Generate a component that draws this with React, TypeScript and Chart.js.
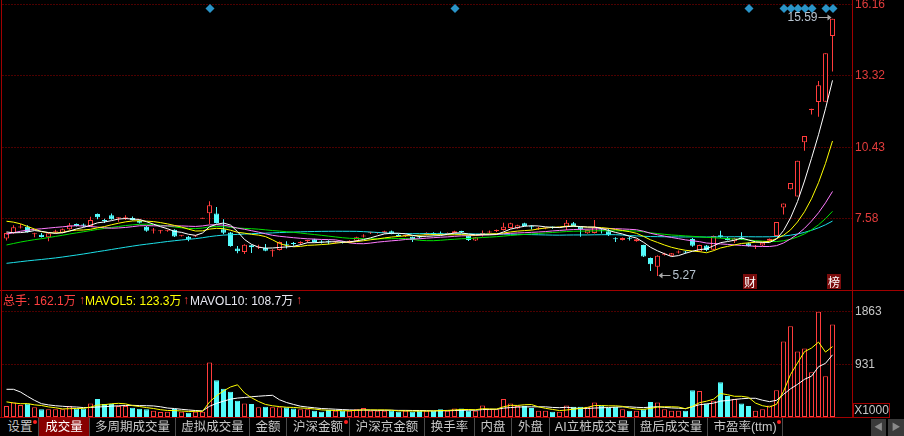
import React, { useEffect, useRef } from 'react';
import { Chart, registerables } from 'chart.js';

Chart.register(...registerables);

// ---------------- data ----------------
const opens = [
  6.78, 6.99, 7.22, 7.25, 6.95, 6.93, 6.83, 7.05, 7.01, 7.15,
  7.36, 7.34, 7.28, 7.76, 7.51, 7.71, 7.59, 7.59, 7.60, 7.49,
  7.25, 7.10, 7.07, 7.09, 7.13, 6.89, 6.85, 6.86, 7.57, 7.79,
  7.78, 7.15, 7.02, 6.38, 6.24, 6.51, 6.42, 6.40, 6.27, 6.32,
  6.55, 6.58, 6.60, 6.68, 6.75, 6.66, 6.65, 6.62, 6.66, 6.61,
  6.69, 6.86, 6.99, 7.00, 6.99, 7.07, 6.93, 6.88, 6.85, 6.86,
  6.93, 6.98, 6.99, 6.96, 6.99, 7.06, 6.89, 6.70, 6.96, 7.02,
  7.08, 7.12, 7.20, 7.18, 7.39, 7.25, 7.17, 7.18, 7.24, 7.21,
  7.25, 7.39, 7.25, 6.99, 7.00, 7.12, 7.07, 6.78, 6.72, 6.79,
  6.67, 6.52, 6.00, 5.65, 6.13, 6.09, 6.22, 6.26, 6.76, 6.26,
  6.50, 6.33, 6.91, 6.80, 6.67, 6.82, 6.59, 6.45, 6.50, 6.69,
  6.88, 8.02, 8.75, 8.46, 10.64, 11.93, 12.25, 12.26, 14.90,
];
const highs = [
  7.02, 7.31, 7.36, 7.31, 7.01, 7.00, 7.00, 7.13, 7.18, 7.40,
  7.38, 7.38, 7.65, 7.78, 7.57, 7.78, 7.63, 7.71, 7.66, 7.53,
  7.28, 7.20, 7.12, 7.13, 7.15, 6.92, 6.88, 6.92, 7.58, 8.27,
  8.04, 7.55, 7.04, 6.48, 6.55, 6.53, 6.53, 6.56, 6.35, 6.66,
  6.67, 6.64, 6.67, 6.73, 6.77, 6.71, 6.71, 6.68, 6.68, 6.71,
  6.85, 6.95, 7.05, 7.04, 7.09, 7.10, 6.96, 6.94, 6.86, 6.90,
  7.03, 7.03, 7.06, 7.02, 7.09, 7.09, 6.90, 6.84, 7.10, 7.10,
  7.14, 7.41, 7.41, 7.33, 7.41, 7.31, 7.25, 7.22, 7.26, 7.24,
  7.52, 7.44, 7.26, 7.14, 7.52, 7.18, 7.17, 6.83, 6.82, 6.84,
  6.76, 6.53, 6.02, 6.11, 6.21, 6.20, 6.30, 6.28, 6.80, 6.53,
  6.52, 6.90, 7.09, 6.85, 6.81, 7.03, 6.62, 6.52, 6.63, 6.78,
  7.44, 8.18, 9.00, 9.90, 10.89, 11.98, 13.09, 14.21, 15.59,
];
const lows = [
  6.70, 6.97, 7.18, 7.02, 6.83, 6.82, 6.67, 6.99, 6.99, 7.13,
  7.26, 7.24, 7.26, 7.55, 7.40, 7.53, 7.45, 7.52, 7.50, 7.38,
  7.05, 6.98, 6.98, 7.05, 6.84, 6.86, 6.67, 6.84, 7.57, 7.36,
  7.38, 6.95, 6.45, 6.19, 6.16, 6.20, 6.36, 6.27, 6.05, 6.30,
  6.38, 6.49, 6.52, 6.62, 6.62, 6.58, 6.55, 6.58, 6.58, 6.60,
  6.66, 6.82, 6.96, 6.97, 6.97, 6.95, 6.86, 6.84, 6.64, 6.78,
  6.91, 6.91, 6.93, 6.93, 6.97, 7.00, 6.68, 6.68, 6.86, 6.99,
  7.04, 7.10, 7.18, 7.16, 7.27, 7.14, 7.13, 7.15, 7.17, 7.20,
  7.12, 7.26, 6.85, 6.97, 6.98, 6.98, 6.88, 6.64, 6.70, 6.70,
  6.65, 6.04, 5.47, 5.27, 6.10, 6.07, 6.18, 6.18, 6.45, 6.24,
  6.27, 6.31, 6.80, 6.70, 6.60, 6.72, 6.46, 6.36, 6.48, 6.67,
  6.86, 7.74, 8.74, 8.46, 10.30, 11.75, 11.66, 12.26, 13.47,
];
const closes = [
  7.00, 7.23, 7.24, 7.04, 6.97, 6.84, 6.99, 7.08, 7.15, 7.31,
  7.28, 7.29, 7.52, 7.63, 7.48, 7.55, 7.61, 7.62, 7.52, 7.41,
  7.09, 7.13, 7.11, 7.11, 6.86, 6.91, 6.75, 6.89, 7.58, 8.11,
  7.40, 7.01, 6.48, 6.27, 6.53, 6.43, 6.44, 6.29, 6.30, 6.64,
  6.53, 6.56, 6.62, 6.70, 6.64, 6.62, 6.63, 6.66, 6.61, 6.69,
  6.83, 6.88, 7.01, 7.02, 7.07, 6.96, 6.88, 6.90, 6.72, 6.82,
  7.01, 6.96, 6.97, 6.98, 7.07, 7.04, 6.72, 6.83, 6.99, 7.04,
  7.10, 7.25, 7.39, 7.31, 7.28, 7.23, 7.19, 7.21, 7.22, 7.23,
  7.41, 7.28, 7.15, 7.12, 7.23, 7.10, 6.91, 6.75, 6.80, 6.77,
  6.75, 6.06, 5.75, 6.09, 6.18, 6.19, 6.25, 6.22, 6.49, 6.52,
  6.32, 6.88, 6.84, 6.72, 6.79, 6.76, 6.48, 6.47, 6.61, 6.77,
  7.44, 8.18, 9.00, 9.90, 10.89, 11.98, 12.92, 14.21, 15.59,
];
// volume in units of 1000 hands
const volumes = [
  193, 258, 211, 240, 170, 135, 135, 135, 135, 193,
  152, 152, 240, 316, 228, 228, 193, 193, 164, 146,
  135, 111, 88, 94, 140, 94, 76, 94, 94, 961,
  650, 498, 445, 287, 240, 228, 170, 182, 170, 170,
  170, 152, 135, 135, 111, 94, 123, 111, 111, 111,
  135, 158, 111, 111, 111, 111, 94, 111, 94, 111,
  111, 111, 135, 111, 152, 152, 111, 111, 205, 135,
  135, 316, 240, 193, 193, 158, 111, 111, 94, 94,
  205, 182, 182, 182, 258, 205, 158, 182, 135, 111,
  111, 135, 264, 258, 135, 111, 111, 111, 474, 457,
  240, 287, 615, 369, 316, 240, 193, 111, 135, 205,
  474, 1330, 1599, 1154, 1207, 791, 1857, 720, 1634,
];
// closes / volumes just before the visible window (feed the moving averages)
const priorCloses = [
  5.3, 5.2, 5.1, 5.25, 5.2, 5.15, 5.2,
  5.0, 4.9, 4.85, 4.8, 4.8, 4.85, 4.9, 4.8,
  4.85, 4.9, 4.95, 4.9, 4.95, 5.0, 4.95, 4.9,
  5.0, 5.1, 5.2, 5.3, 5.3, 5.4, 5.4,
  5.45, 5.5, 5.55, 5.6, 5.65, 5.65, 5.7, 5.75, 5.8, 5.9,
  6.0, 6.1, 6.2, 6.3, 6.35, 6.45, 6.55, 6.65, 6.75, 6.95,
  7.6, 7.9, 8.1, 8.0, 7.9,
  7.4, 7.2, 6.9, 6.7,
];
const priorVolumes = [258, 691, 1000, 880, 725, 350, 280, 230, 280];

const priceTicks = [7.58, 10.43, 13.32, 16.16];
const volumeTicks = [931, 1863];
const maPeriods = [5, 10, 20, 30, 60];
const volMaPeriods = [5, 10];
const markerIdx = [29, 64, 106, 111, 112, 113, 114, 115, 117, 118];
const eventIdx = [106, 118];
const eventText = ['财', '榜'];
const legendLabels = ['总手: 162.1万', 'MAVOL5: 123.3万', 'MAVOL10: 108.7万'];
const tabLabels = ['设置', '成交量', '多周期成交量', '虚拟成交量', '金额', '沪深金额', '沪深京金额', '换手率', '内盘', '外盘', 'AI立桩成交量', '盘后成交量', '市盈率(ttm)'];
const tabDotted = ['设置', '沪深金额', '市盈率(ttm)'];
const selectedTab = '成交量';

// ---------------- styles / layout ----------------
const UP = '#ff3c3c';
const DOWN = '#54fcfc';
const BORDER = '#a00000';
const GRID = '#9a0000';
const maColors = ['#ffffff', '#ffff00', '#ff7cff', '#00e000', '#1ce0e8'];
const volMaColors = ['#ffff00', '#ffffff'];
const legendColors = ['#ff4040', '#ffff00', '#e6e6f0'];
const legendLefts = [3, 85, 190];
const arrowLefts = [79, 183, 296];
const tabEdges = [2, 39, 90, 176, 250, 287, 350, 425, 475, 512, 550, 635, 708, 783];
const NUM_FONT = "'Liberation Sans', Arial, sans-serif";
const CJK_FONT = "'Liberation Sans', 'Noto Sans CJK SC', sans-serif";
const X_MIN = -4 / 7;
const X_MAX = X_MIN + 850 / 7;
const PRICE_MIN = 4.713;
const PRICE_MAX = 16.34;
const VOL_MAX = 2223;

function movingAverage(values: number[], prior: number[], n: number): (number | null)[] {
  const all = prior.concat(values);
  const off = prior.length;
  return values.map((_, i) => {
    const end = off + i;
    const start = end - n + 1;
    if (start < 0) return null;
    let s = 0;
    for (let k = start; k <= end; k++) s += all[k];
    return s / n;
  });
}

const pricePlugin = {
  id: 'priceNotes',
  afterDatasetsDraw(chart: any) {
    const { ctx, chartArea } = chart;
    const xs = chart.scales.x;
    const ys = chart.scales.y;
    ctx.save();
    // top markers
    ctx.fillStyle = '#2a94c8';
    markerIdx.forEach((i) => {
      const px = xs.getPixelForValue(i) + 0.5;
      const py = chartArea.top + 8.5;
      const r = 4.5;
      ctx.beginPath();
      ctx.moveTo(px, py - r);
      ctx.lineTo(px + r, py);
      ctx.lineTo(px, py + r);
      ctx.lineTo(px - r, py);
      ctx.closePath();
      ctx.fill();
    });
    // highest / lowest
    let hi = 0;
    let lo = 0;
    highs.forEach((h, i) => { if (h >= highs[hi]) hi = i; });
    lows.forEach((l, i) => { if (l < lows[lo]) lo = i; });
    ctx.font = `12px ${NUM_FONT}`;
    ctx.textBaseline = 'middle';
    ctx.lineWidth = 1;
    const hx = xs.getPixelForValue(hi);
    const hy = Math.round(ys.getPixelForValue(highs[hi])) - 1.5;
    ctx.strokeStyle = '#a8a8a8';
    ctx.fillStyle = '#a8a8a8';
    ctx.beginPath();
    ctx.moveTo(hx - 14, hy);
    ctx.lineTo(hx - 4, hy);
    ctx.stroke();
    ctx.beginPath();
    ctx.moveTo(hx - 1, hy);
    ctx.lineTo(hx - 5, hy - 3);
    ctx.lineTo(hx - 5, hy + 3);
    ctx.closePath();
    ctx.fill();
    ctx.fillStyle = '#b8c4d0';
    ctx.textAlign = 'right';
    ctx.fillText(highs[hi].toFixed(2), hx - 15, hy);

    const lx = xs.getPixelForValue(lo);
    const ly = Math.round(ys.getPixelForValue(lows[lo])) - 0.5;
    ctx.fillStyle = '#a8a8a8';
    ctx.beginPath();
    ctx.moveTo(lx + 4, ly);
    ctx.lineTo(lx + 13, ly);
    ctx.stroke();
    ctx.beginPath();
    ctx.moveTo(lx + 1, ly);
    ctx.lineTo(lx + 5, ly - 3);
    ctx.lineTo(lx + 5, ly + 3);
    ctx.closePath();
    ctx.fill();
    ctx.fillStyle = '#b8c4d0';
    ctx.textAlign = 'left';
    ctx.fillText(lows[lo].toFixed(2), lx + 15, ly);

    // event tags
    ctx.font = "12px 'Noto Sans CJK SC', sans-serif";
    ctx.textAlign = 'center';
    eventIdx.forEach((i, k) => {
      const cx = Math.round(xs.getPixelForValue(i) + 1.5);
      const bottom = chartArea.bottom - 1;
      ctx.fillStyle = '#7a0c0c';
      ctx.fillRect(cx - 7, bottom - 15, 14, 15);
      ctx.fillStyle = '#ffffff';
      ctx.fillText(eventText[k], cx, bottom - 7);
    });
    ctx.restore();
  },
};

export default function App() {
  const priceRef = useRef<HTMLCanvasElement>(null);
  const volRef = useRef<HTMLCanvasElement>(null);

  useEffect(() => {
    const idx = closes.map((_, i) => i);
    const isUp = idx.map((i) => closes[i] >= opens[i]);
    const xScale: any = { type: 'linear', min: X_MIN, max: X_MAX, display: false, offset: false };

    const price = new Chart(priceRef.current as HTMLCanvasElement, {
      type: 'bar',
      data: {
        datasets: [
          ...maPeriods.map((n, k) => ({
            type: 'line',
            label: 'MA' + n,
            data: movingAverage(closes, priorCloses, n).map((v, i) => ({ x: i, y: v })),
            borderColor: maColors[k],
            borderWidth: 1,
            pointRadius: 0,
            tension: 0,
            order: 0,
          })),
          {
            type: 'bar',
            label: 'body',
            data: idx.map((i) => ({ x: i, y: [opens[i], closes[i]] })),
            backgroundColor: idx.map((i) => (isUp[i] ? '#000000' : DOWN)),
            borderColor: idx.map((i) => (isUp[i] ? UP : DOWN)),
            borderWidth: 1,
            borderSkipped: false,
            barThickness: 5,
            minBarLength: 1,
            grouped: false,
            inflateAmount: 0,
            order: 1,
          },
          {
            type: 'bar',
            label: 'wick',
            data: idx.map((i) => ({ x: i, y: [lows[i], highs[i]] })),
            backgroundColor: idx.map((i) => (isUp[i] ? UP : DOWN)),
            borderWidth: 0,
            barThickness: 1,
            minBarLength: 1,
            grouped: false,
            inflateAmount: 0,
            order: 2,
          },
        ] as any,
      },
      options: {
        animation: false,
        responsive: false,
        devicePixelRatio: 1,
        events: [],
        layout: { padding: { left: 2.5, right: 0, top: 0, bottom: 1 } },
        plugins: { legend: { display: false }, tooltip: { enabled: false } },
        scales: {
          x: xScale,
          y: {
            type: 'linear',
            position: 'right',
            min: PRICE_MIN,
            max: PRICE_MAX,
            bounds: 'data',
            afterBuildTicks: (s: any) => { s.ticks = priceTicks.map((v) => ({ value: v })); },
            afterFit: (s: any) => { s.width = 51.5; s.paddingTop = 0; s.paddingBottom = 0; },
            ticks: {
              color: '#e23c3c',
              padding: 2.5,
              autoSkip: false,
              font: { size: 12, family: NUM_FONT },
              callback: (v: any) => Number(v).toFixed(2),
            },
            grid: { color: GRID, drawTicks: false, lineWidth: 1 },
            border: { display: false, dash: [1, 2] },
          } as any,
        },
      },
      plugins: [pricePlugin],
    });

    const vol = new Chart(volRef.current as HTMLCanvasElement, {
      type: 'bar',
      data: {
        datasets: [
          ...volMaPeriods.map((n, k) => ({
            type: 'line',
            label: 'MAVOL' + n,
            data: movingAverage(volumes, priorVolumes, n).map((v, i) => ({ x: i, y: v })),
            borderColor: volMaColors[k],
            borderWidth: 1,
            pointRadius: 0,
            tension: 0,
            order: 0,
          })),
          {
            type: 'bar',
            label: 'volume',
            data: idx.map((i) => ({ x: i, y: volumes[i] })),
            backgroundColor: idx.map((i) => (isUp[i] ? '#000000' : DOWN)),
            borderColor: idx.map((i) => (isUp[i] ? UP : DOWN)),
            borderWidth: 1,
            borderSkipped: false,
            barThickness: 5,
            grouped: false,
            inflateAmount: 0,
            order: 1,
          },
        ] as any,
      },
      options: {
        animation: false,
        responsive: false,
        devicePixelRatio: 1,
        events: [],
        layout: { padding: { left: 2.5, right: 0, top: 0, bottom: 1 } },
        plugins: { legend: { display: false }, tooltip: { enabled: false } },
        scales: {
          x: xScale,
          y: {
            type: 'linear',
            position: 'right',
            min: 0,
            max: VOL_MAX,
            bounds: 'data',
            afterBuildTicks: (s: any) => { s.ticks = volumeTicks.map((v) => ({ value: v })); },
            afterFit: (s: any) => { s.width = 51.5; s.paddingTop = 0; s.paddingBottom = 0; },
            ticks: {
              color: '#c8c8c8',
              padding: 2.5,
              autoSkip: false,
              font: { size: 12, family: NUM_FONT },
              callback: (v: any) => String(v),
            },
            grid: { color: GRID, drawTicks: false, lineWidth: 1 },
            border: { display: false, dash: [1, 2] },
          } as any,
        },
      },
    });

    return () => {
      price.destroy();
      vol.destroy();
    };
  }, []);

  const abs = (s: any) => ({ position: 'absolute', ...s });

  return (
    <div style={{ position: 'fixed', left: 0, top: 0, width: 904, height: 436, background: '#000', overflow: 'hidden', fontFamily: CJK_FONT }}>
      <canvas ref={priceRef} width={904} height={291} style={abs({ left: 0, top: 0, width: 904, height: 291 })} />
      <canvas ref={volRef} width={904} height={127} style={abs({ left: 0, top: 291, width: 904, height: 127 })} />

      <div style={abs({ left: 1, top: 0, width: 1, height: 418, background: BORDER })} />
      <div style={abs({ left: 852, top: 0, width: 1, height: 418, background: BORDER })} />
      <div style={abs({ left: 0, top: 290, width: 904, height: 1, background: BORDER })} />
      <div style={abs({ left: 0, top: 417, width: 853, height: 1, background: BORDER })} />

      {legendLabels.map((t, k) => (
        <div key={'l' + k} style={abs({ left: legendLefts[k], top: 295, fontSize: 12, lineHeight: '13px', color: legendColors[k], whiteSpace: 'nowrap' })}>{t}</div>
      ))}
      {arrowLefts.map((x, k) => (
        <div key={'a' + k} style={abs({ left: x, top: 294, fontSize: 12, lineHeight: '13px', fontWeight: 'bold', color: UP })}>↑</div>
      ))}

      <div style={abs({ left: 853, top: 403, width: 35, height: 13, border: `1px solid ${BORDER}`, color: '#c8c8c8', fontSize: 12, lineHeight: '13px', fontFamily: NUM_FONT, textAlign: 'center' })}>X1000</div>

      {tabLabels.map((t, k) => {
        const sel = t === selectedTab;
        return (
          <div
            key={'t' + k}
            style={abs({
              left: tabEdges[k],
              top: 418,
              width: tabEdges[k + 1] - tabEdges[k] - 1,
              height: 18,
              borderRight: '1px solid #4a4a4a',
              background: sel ? '#880000' : '#000',
              color: sel ? '#ffffff' : '#c8c8c8',
              fontSize: 12.5,
              lineHeight: '18px',
              textAlign: 'center',
              whiteSpace: 'nowrap',
            })}
          >
            {t}
            {tabDotted.includes(t) && (
              <span style={abs({ right: 1, top: 2, width: 4, height: 4, borderRadius: 2, background: '#ff2020' })} />
            )}
          </div>
        );
      })}
      <div style={abs({ left: 871, top: 419, width: 15, height: 17, background: '#3a3a3a', color: '#8a8a8a', fontSize: 9, lineHeight: '17px', textAlign: 'center' })}>◀</div>
      <div style={abs({ left: 888, top: 419, width: 16, height: 17, background: '#3a3a3a', color: '#8a8a8a', fontSize: 9, lineHeight: '17px', textAlign: 'center' })}>▶</div>
    </div>
  );
}
